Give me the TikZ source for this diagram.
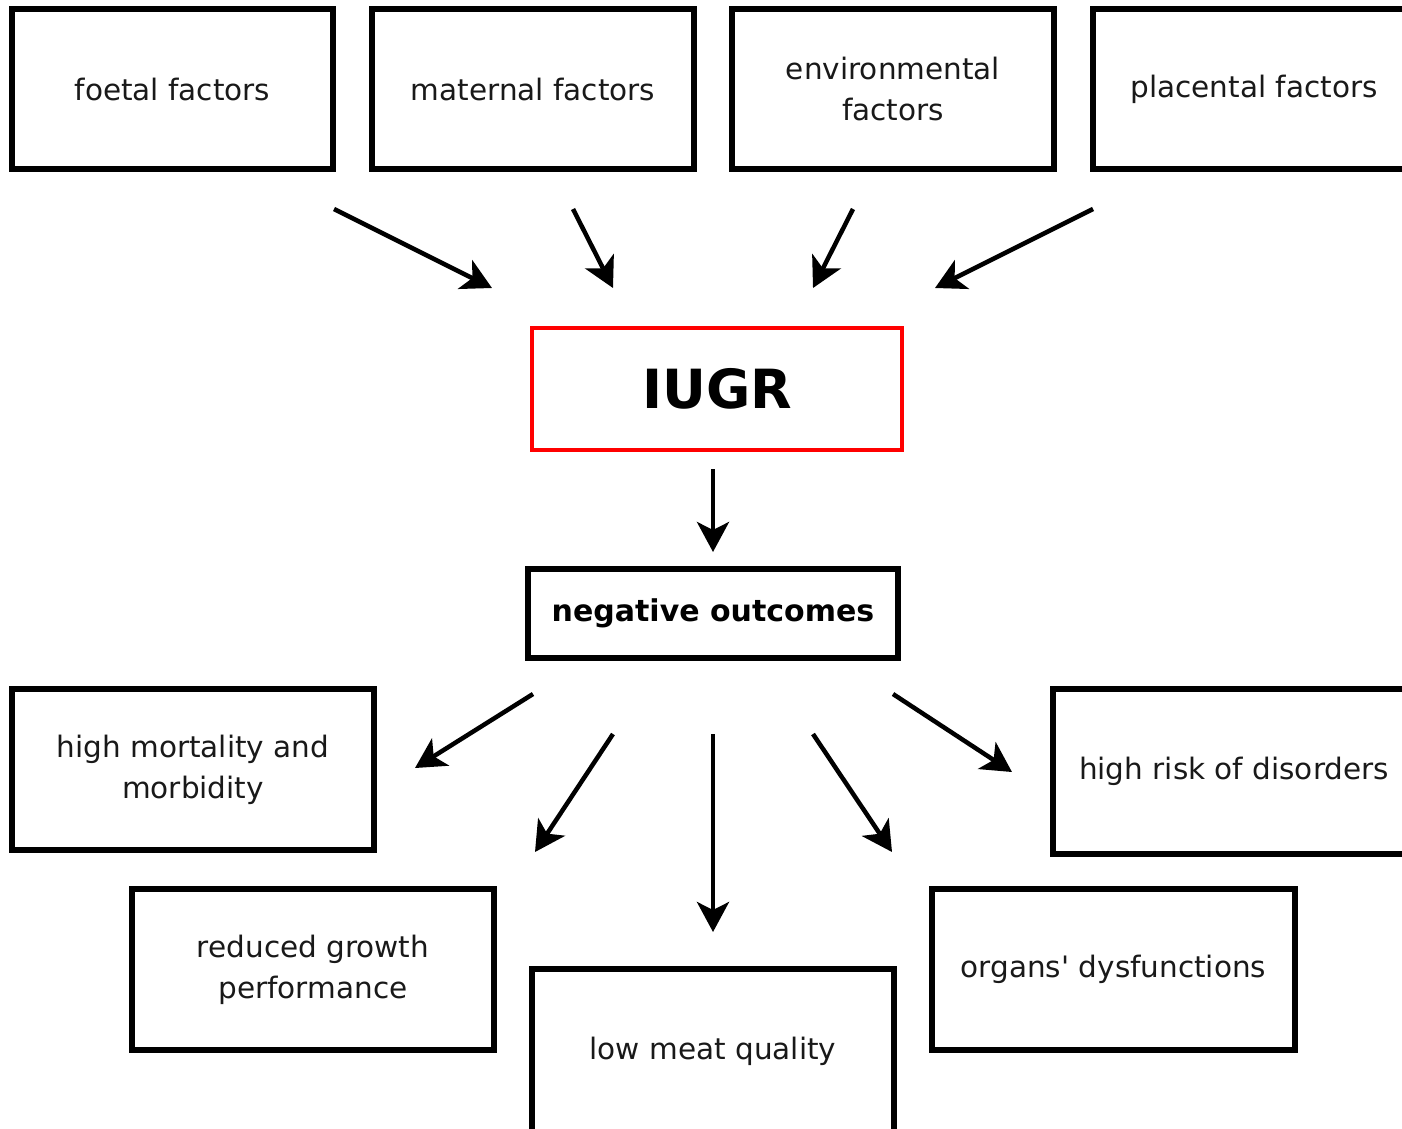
\documentclass[tikz,border=0pt]{standalone}
\usepackage{fontspec}
\setmainfont{DejaVu Sans}
\usetikzlibrary{arrows.meta}
\begin{document}
\begin{tikzpicture}[x=1pt,y=-1pt,
  box/.style={draw=black, line width=5.5pt, inner sep=0pt, align=center,
    font=\fontsize{29.5}{41}\selectfont, text=black!90},
  keybox/.style={box, draw=red, line width=4.5pt, font=\fontsize{54}{60}\selectfont\bfseries, text=black},
  outbox/.style={box, font=\fontsize{30}{36}\selectfont\bfseries, text=black},
  flow/.style={line width=4.5pt, -{Stealth[length=30pt,width=32pt,inset=8pt]}}
]
\useasboundingbox (0,0) rectangle (1402,1128);
\clip (0,0) rectangle (1402,1128);

% causes
\node[box, minimum width=321pt, minimum height=160pt] (foetal) at (172.5,89) {foetal factors};
\node[box, minimum width=322pt, minimum height=160pt] (maternal) at (533,89) {maternal factors};
\node[box, minimum width=322pt, minimum height=160pt] (environ) at (893,89) {environmental\\factors};
\node[box, minimum width=322pt, minimum height=160pt] (placental) at (1254,89) {placental factors};

% central condition
\node[keybox, minimum width=370pt, minimum height=122pt] (iugr) at (717,389) {IUGR};
\node[outbox, minimum width=370pt, minimum height=89pt] (neg) at (713,613.5) {negative outcomes};

% outcomes
\node[box, minimum width=362pt, minimum height=161pt] (mort) at (193,769.5) {high mortality and\\morbidity};
\node[box, minimum width=362pt, minimum height=165pt] (risk) at (1234,771.5) {high risk of disorders};
\node[box, minimum width=362pt, minimum height=161pt] (growth) at (313,969.5) {reduced growth\\performance};
\node[box, minimum width=362pt, minimum height=164pt] (meat) at (713,1051) {low meat quality};
\node[box, minimum width=363pt, minimum height=161pt] (organs) at (1113.5,969.5) {organs\textquotesingle{} dysfunctions};

% arrow end points
\coordinate (a1s) at (334,209);  \coordinate (a1e) at (492,288);
\coordinate (a2s) at (573,209);  \coordinate (a2e) at (613,288);
\coordinate (a3s) at (853,209);  \coordinate (a3e) at (813,288);
\coordinate (a4s) at (1093,209); \coordinate (a4e) at (935,288);
\coordinate (bs) at (713,469);   \coordinate (be) at (713,552);
\coordinate (c1s) at (533,694);  \coordinate (c1e) at (415,768);
\coordinate (c2s) at (613,734);  \coordinate (c2e) at (535,852);
\coordinate (c3s) at (713,734);  \coordinate (c3e) at (713,932);
\coordinate (c4s) at (813,734);  \coordinate (c4e) at (892,852);
\coordinate (c5s) at (893,694);  \coordinate (c5e) at (1012,772);

\draw[flow] (a1s) -- (a1e);
\draw[flow] (a2s) -- (a2e);
\draw[flow] (a3s) -- (a3e);
\draw[flow] (a4s) -- (a4e);
\draw[flow] (bs) -- (be);
\draw[flow] (c1s) -- (c1e);
\draw[flow] (c2s) -- (c2e);
\draw[flow] (c3s) -- (c3e);
\draw[flow] (c4s) -- (c4e);
\draw[flow] (c5s) -- (c5e);
\end{tikzpicture}
\end{document}
